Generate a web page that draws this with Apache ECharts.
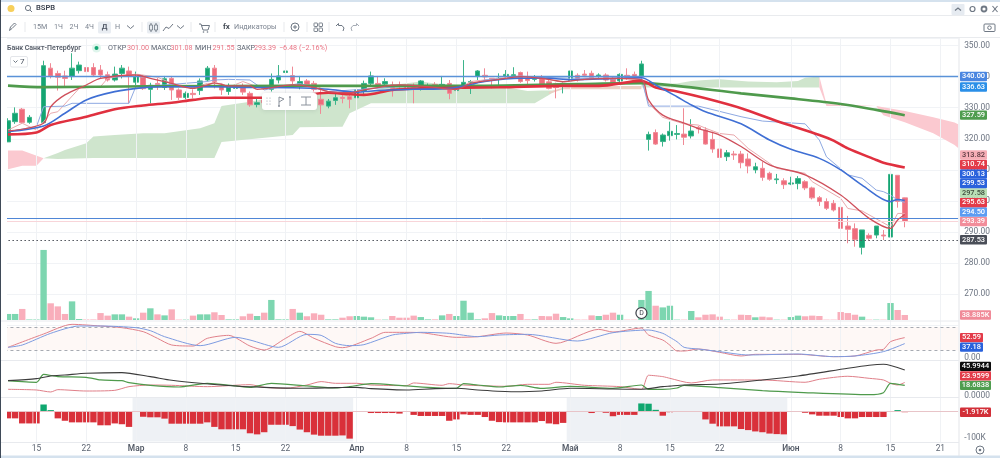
<!DOCTYPE html>
<html lang="ru">
<head>
<meta charset="utf-8">
<title>BSPB</title>
<style>html,body{margin:0;padding:0;background:#fff}#chart{width:1000px;height:458px}</style>
<script src="https://cdn.jsdelivr.net/npm/echarts@6/dist/echarts.min.js"></script>
</head>
<body>
<div id="chart"></div>
<script>
// Daily slots: 11 Feb through the empty days to the right of the last session
const monthStarts = [['02', 11, 28], ['03', 1, 31], ['04', 1, 30], ['05', 1, 31], ['06', 1, 30]];
const slotCount = 134;
const categories = [];
monthStarts.forEach(([m, from, to]) => { for (let d = from; d <= to && categories.length < slotCount; d++) categories.push(m + '-' + d); });

const tickIndex = [4, 11, 18, 25, 32, 39, 49, 56, 63, 70, 79, 86, 93, 100, 110, 117, 124, 131];
const tickLabels = ['15', '22', 'Мар', '8', '15', '22', 'Апр', '8', '15', '22', 'Май', '8', '15', '22', 'Июн', '8', '15', '21'];

// Sessions as [open, close, low, high]
const candles = [
[319.0,325.8,319.0,326.6],[325.5,328.2,324.8,330.1],[329.5,325.2,324.8,329.9],[325.3,326.9,324.8,327.6],'-',
[325.2,343.5,324.9,345.1],[342.7,340.2,339.4,344.3],[341.0,339.8,335.5,341.9],[340.2,339.4,336.8,341.9],[340.0,342.7,338.9,347.5],
[341.9,343.7,341.0,344.8],[342.9,341.6,340.8,344.8],[342.9,340.5,340.2,344.3],[342.1,340.5,339.4,343.7],[340.6,338.9,338.4,341.6],
[338.9,340.8,338.4,343.2],[341.0,342.7,339.4,343.7],[341.8,340.2,331.4,343.2],[338.2,340.0,337.3,341.6],[339.8,336.1,335.7,340.5],
[335.9,337.2,331.4,338.0],[337.8,337.4,335.7,339.5],[336.5,339.3,335.7,340.2],[339.4,335.7,332.5,340.2],[335.7,333.3,332.5,336.2],
[333.3,334.6,332.7,335.2],[334.6,334.2,333.0,335.9],[335.5,338.6,334.1,339.4],[338.9,342.7,338.4,343.4],[342.7,338.4,336.2,343.7],
[336.8,335.7,334.1,337.8],[335.2,336.8,334.1,337.8],[336.2,337.0,335.5,337.5],[337.0,335.0,334.1,337.8],[334.6,330.9,330.3,335.2],
[331.0,331.6,330.1,333.0],[332.4,331.6,331.0,333.0],[335.9,339.1,335.2,341.0],[338.9,340.2,337.8,343.7],[341.3,341.8,341.0,343.2],
[340.3,338.6,337.3,343.2],[337.0,338.4,335.9,340.2],[338.6,337.3,336.8,339.2],[337.8,335.9,335.2,338.6],[332.7,330.9,328.0,335.7],
[330.5,332.1,329.8,332.8],[332.3,333.2,330.9,334.6],[333.3,333.0,331.4,334.1],[333.55,332.7,329.8,334.6],[333.2,335.7,331.9,336.2],
[335.2,337.8,334.1,338.7],[337.8,340.2,337.3,341.6],[337.8,337.1,336.55,340.2],[337.6,338.4,337.3,339.45],[337.3,336.2,333.55,338.4],
[337.0,336.75,335.9,338.4],[337.2,336.2,335.15,338.4],[336.75,336.2,331.4,337.8],[335.9,338.6,335.5,338.9],[336.55,337.1,336.0,337.8],
[337.5,336.45,336.0,338.2],[336.55,337.5,336.2,340.2],[337.8,334.6,332.7,338.9],[335.5,336.75,333.75,337.3],[337.0,338.15,336.75,345.3],
[338.15,338.4,334.4,338.9],[340.0,341.8,338.9,342.1],[340.4,339.9,338.4,342.65],[339.45,338.9,336.2,339.45],[339.2,339.45,337.3,341.05],
[340.2,340.7,339.45,342.1],[340.3,340.6,340.0,343.0],[341.3,338.4,338.0,341.6],[339.45,338.7,337.3,341.6],[339.1,340.0,338.4,340.5],
[339.65,337.5,337.0,340.5],[338.3,336.2,335.9,338.9],[337.7,336.45,333.0,338.05],[337.2,337.8,334.6,338.4],[338.7,341.8,337.8,342.1],
[340.4,338.9,338.4,341.05],[340.8,340.4,340.0,342.1],[341.05,339.65,339.1,341.9],[340.2,340.5,339.1,341.05],[340.5,338.9,338.4,341.05],
[339.1,337.8,337.3,340.0],[338.6,340.7,338.05,341.05],[340.4,339.8,338.9,342.65],[340.7,340.0,339.45,341.6],[340.2,344.05,339.45,345.1],
[319.8,321.4,316.2,322.3],[322.0,318.3,318.0,323.0],[319.1,321.2,317.5,321.7],[321.0,322.4,319.4,325.5],[321.4,321.7,319.8,324.4],
[321.5,320.5,318.0,329.8],[320.9,322.5,320.1,326.3],[323.7,323.2,321.7,324.1],[322.8,318.3,318.1,323.7],[319.8,316.7,315.5,322.3],
[316.7,314.0,313.4,319.1],[314.25,315.5,312.85,316.4],[315.1,314.8,313.2,316.1],[315.1,312.3,310.5,316.1],[313.5,311.25,308.9,315.3],
[310.0,311.0,308.9,312.3],[310.5,307.6,306.5,312.6],[308.9,307.0,306.5,309.4],[306.85,307.1,305.5,308.7],[306.5,305.25,303.85,307.3],
[305.45,305.8,305.1,307.8],[305.6,307.2,303.75,308.0],[306.2,304.2,303.5,306.7],[304.2,301.0,300.5,304.6],[301.05,299.8,298.4,301.6],
[299.8,297.65,297.1,300.85],[299.25,297.1,296.6,300.3],[297.95,291.2,290.9,298.2],[291.95,290.9,286.4,295.2],[291.1,287.65,285.3,292.8],
[285.1,290.7,282.8,290.7],[288.95,288.0,287.25,289.6],[289.05,291.95,288.0,291.95],[289.05,288.75,287.45,290.65],[288.4,308.55,287.45,308.55],
[308.25,299.87,297.85,308.25],[301.0,293.39,291.55,301.08]
];

// Volume, thousands of shares
const volume = [47,47,86,4,4,545,130,106,47,145,8,4,4,54,34,44,44,26,13,57,91,44,36,83,3,3,34,44,44,60,39,5,5,29,49,31,57,156,5,5,86,57,29,52,41,5,5,18,29,31,26,21,3,3,31,18,18,34,23,5,5,36,47,31,150,57,5,13,54,36,31,31,47,5,5,31,29,49,23,13,3,3,36,31,41,57,41,3,3,156,226,111,98,111,3,3,70,21,41,44,26,3,3,41,39,21,26,21,3,3,23,34,29,34,31,3,3,62,54,41,26,3,3,3,132,78,38.885];

// Momentum histogram, thousands
const histogram = [-25,-25,-44,-44,-44,27,6,-25,-34,-40,-40,-40,-40,-51,-51,-44,-47,-57,-1,-19,-21,-21,-26,-45,-45,-45,-45,-45,-40,-57,-66,-66,-66,-66,-81,-85,-77,-49,-49,-49,-54,-67,-77,-86,-90,-90,-90,-89,-101,-1,2,-5,-5,-5,-5,-7,-1,-12,-16,-16,-16,-16,-34,-29,-10,-12,-12,-20,-34,-39,-40,-40,-40,-40,-40,-35,-44,-47,-42,-1,-1,-1,-5,-1,-4,-17,-12,-12,-12,31,30,7,-15,-2,-1,-1,-1,-1,-29,-45,-55,-55,-55,-65,-69,-74,-77,-82,-84,-85,2,2,-4,-10,-15,-15,-15,-20,-25,-25,-20,-20,-20,-20,2,6,-1.917];

// Overlay lines as [slot, price]
const longAverage = [[0,337.1],[5,336.6],[20,336.9],[40,337.0],[64,337.0],[80,337.6],[89,337.9],[94,337.0],[103,334.6],[110,333.0],[117,331.2],[122,329.3],[126,327.59]];
const slowAverage = [[0,321.4],[4,322],[6,324.4],[11,327.1],[15,329.5],[19,330.7],[23,331.6],[26,332.5],[29,333.2],[34,333.2],[40,333.6],[45,334.8],[48,334.3],[50,334.1],[54,335.7],[58,336.2],[64,336.45],[69,336.55],[78,337],[83,337],[89,338.6],[91,336.5],[94,335.2],[98,333],[103,329.8],[108,325.7],[114,321.2],[116,319.4],[118,316.9],[122,313.2],[123,312.3],[126,310.74]];
const midAverage = [[0,322.3],[5,324.1],[8,328.2],[11,332.5],[15,335.15],[19,336.45],[22,336.75],[29,336.75],[34,336.5],[40,336.4],[45,335.9],[49,335],[52,335.5],[57,335.9],[62,336.2],[67,338.4],[72,339.45],[76,339.45],[79,339],[83,339.2],[89,339.6],[91,337.3],[94,333.5],[96,330.9],[98,328.7],[103,324.8],[107,319.6],[110,316.6],[114,313.7],[117,310],[120,305.1],[124,299.8],[125,300.5],[126,300.13]];
const fastAverage = [[0,322.5],[5,325],[6,330.3],[8,334.1],[11,337.3],[13,339.4],[18,340.5],[20,339.45],[23,337.8],[26,336.2],[28,337.3],[29,338],[31,337],[34,337],[35,335.9],[40,337.3],[43,336.5],[45,335.15],[48,334.8],[50,335.7],[55,337.3],[59,336.75],[63,335.9],[65,337.8],[69,339.1],[72,340],[75,339.45],[78,338.4],[81,339.1],[85,339.45],[89,339],[90,332.5],[92,327.6],[95,325],[97,323.3],[100,321.2],[103,317.5],[107,311.6],[112,308.4],[117,301.9],[121,294.4],[124,291.2],[125,293.9],[126,295.63]];
const pinkChannel = [[0,322.8],[2,325],[4,322.8],[5,325.5],[6,328.2],[7,328.7],[10,336.2],[13,336.75],[14,339.45],[18,340.8],[21,339.8],[23,337.8],[26,336.4],[28,337.8],[30,337.8],[31,336.55],[33,338.4],[35,336.75],[40,337.3],[43,337.3],[45,335.15],[48,334.6],[50,335.9],[55,337.3],[59,336.55],[63,335.7],[65,338.4],[69,339.45],[72,340.2],[75,339.45],[78,338.15],[81,339.45],[85,339.45],[89,339.1],[90,331.4],[92,326.9],[95,324.8],[97,324.4],[98,323.4],[100,321.7],[102,321.2],[103,319.1],[104,316.9],[108,310.5],[112,308.9],[113,306.2],[117,300.85],[118,297.6],[120,296.8],[124,291.7],[125,296],[126,296]];
const blueChannel = [[0,322.3],[4,323.9],[5,330.3],[8,330.5],[9,331.4],[17,331.4],[18,337],[22,337.3],[28,338.4],[29,338.9],[31,339.1],[34,338.9],[36,335.7],[41,337.8],[45,335.15],[55,336.75],[64,336.2],[67,338.9],[73,340],[79,339.45],[89,339.6],[90,330.5],[97,330.5],[103,327.1],[106,325.7],[112,324.8],[114,319.6],[115,314.2],[118,308.4],[120,307.3],[122,303.5],[123,303],[124,301.9],[125,300.3],[126,299.53]];

// Cloud regions: upper and lower boundary of each
const cloudBearLeftTop = [[0,316.2],[2,316.2],[5,313.7]];
const cloudBearLeftBottom = [[0,310.2],[2,311.3],[4,311.3],[5,313.7]];
const cloudBullTop = [[5,313.7],[7,315.4],[8,316.4],[11,318.6],[12,320.7],[15,321.2],[19,321.8],[22,321.8],[27,323.4],[29,325],[30,330.5],[34,331.9],[36,332.7],[40,333.5],[45,334.6],[50,334.6],[54,337.3],[58,338.4],[60,337.8],[63,337.3],[69,337],[73,335.4],[75,335.5],[77,335.5]];
const cloudBullBottom = [[5,313.7],[7,313.5],[12,313.8],[29,313.8],[30,319],[40,321.2],[41,323.7],[47,323.9],[48,328.2],[51,331.4],[74,331.4],[76,334.1],[77,335.5]];
const cloudBearMidTop = [[76,335],[78,336.5],[83,337],[89,337]];
const cloudBearMidBottom = [[76,334.4],[78,335.9],[89,335.9]];
const cloudBullLateTop = [[89,337.6],[94,337.8],[96,338.6],[98,338.9],[100,339.1],[104,338.4],[108,338.2],[111,338.6],[112,339.6],[114,340]];
const cloudBullLateBottom = [[89,336.5],[114,336.5]];
const cloudBearLateTop = [[114,340],[115,331.2],[122,330.5],[126,328.9],[130,326.9],[133,325.2],[134,324.7]];
const cloudBearLateBottom = [[114,336.5],[115,330.5],[122,330.5],[123,327.6],[126,325.3],[130,321.8],[133,318],[134,317]];

// Oscillator pane: %K and %D
const stochK = [[0,27.5],[5,61.9],[9,86.8],[13,82.5],[16,78.2],[19,67.9],[21,50.7],[23,33.5],[26,30.9],[28,50.7],[31,58.4],[34,30.9],[36,20.6],[39,50.7],[41,68.7],[43,50.7],[46,29.2],[47,26.6],[51,50.7],[53,66.2],[55,66.2],[58,65.3],[63,53.3],[66,55],[70,64.4],[73,59.3],[77,37.8],[83,73.9],[85,67],[89,77.3],[90,59.3],[92,46.4],[93,33],[94,18],[95,18],[97,23.2],[100,14.6],[103,5.2],[105,9.5],[111,9.5],[116,3.5],[119,5.2],[122,20.6],[123,22.4],[124,42.1],[126,52.59]];
const stochD = [[0,27.5],[2,33.5],[6,63.6],[10,82.5],[13,82.5],[18,78.2],[20,70.5],[22,55],[27,31.8],[32,53.3],[34,46.4],[38,27.5],[42,61],[44,58.4],[46,37.8],[48,31.8],[50,34.4],[54,59.3],[56,63.6],[58,66.2],[62,63.6],[66,55],[69,59.3],[73,61],[80,43.8],[85,65.3],[90,72.2],[92,63.6],[93,53.3],[94,42.1],[95,27.5],[97,23.2],[100,16.4],[104,7.8],[111,10.3],[116,3.5],[119,5.2],[123,16.4],[126,37.18]];

// Directional pane: ADX, -DI, +DI
const adxLine = [[0,27.1],[4,30.7],[6,35.4],[8,37.1],[11,40.1],[16,41.3],[20,34.2],[23,27.7],[27,22.4],[32,17.7],[36,15.3],[41,13.6],[46,14.7],[49,15.3],[51,13],[56,10.6],[60,13],[63,13.6],[66,10.6],[71,7.6],[75,8.8],[79,13.6],[85,12.4],[89,11.8],[92,16.5],[93,17.5],[95,19.5],[100,21.2],[106,28.3],[111,35.4],[118,49],[121,54.3],[123,56],[126,45.9944]];
const minusDi = [[0,27.1],[4,24.2],[5,38.3],[7,34.2],[11,33],[13,28.3],[16,27.1],[17,23.6],[20,18.9],[24,15.9],[28,22.4],[32,17.7],[34,15.3],[37,22.4],[42,17.7],[46,14.1],[48,16.5],[51,21.8],[56,17.7],[62,13.6],[63,13.6],[64,21.8],[66,19.4],[69,15.9],[72,18.9],[75,13.6],[79,17.1],[85,13.6],[89,19.4],[90,11.8],[92,11.8],[94,14.1],[95,18.9],[100,14.7],[106,9.4],[111,6.5],[121,2.3],[123,5.9],[124,22.4],[126,18.6838]];
const plusDi = [[0,11.8],[4,10.6],[6,7.1],[7,11.2],[11,8.8],[15,10],[17,16.5],[20,19.4],[23,18.9],[28,16.5],[34,20],[36,15.3],[39,13.6],[42,19.4],[44,25.4],[46,22.4],[49,22.4],[51,19.4],[56,18.3],[57,23],[61,18.9],[62,21.8],[64,19.4],[70,17.1],[73,20.6],[76,20.6],[77,24.2],[81,18.9],[86,16.5],[89,11.8],[90,36.6],[92,34.2],[93,31.2],[96,23],[99,28.3],[106,28.3],[112,24.2],[114,29.5],[118,34.8],[121,31.2],[123,28.3],[124,22.4],[125,19.4],[126,23.9599]];

// Horizontal levels and price flags
const resistanceLevel = 340.0;
const supportLevel = 294.5;
const previousCloseLevel = 287.53;
const lastCloseLevel = 293.39;
const priceTagValues = [287.53, 293.39, 294.5, 295.63, 297.58, 299.53, 300.13, 310.74, 313.82, 327.59, 336.63, 340.0];
const priceTagFills = ['#4a4e58', '#f28d9a', '#5c9cf2', '#e33b49', '#b9deb6', '#2a62dc', '#2a62dc', '#e33b49', '#f6aeb6', '#4f9d4f', '#2a8fe8', '#4a86e0'];
const priceTagInks = ['#fff', '#fff', '#fff', '#fff', '#3c4a3c', '#fff', '#fff', '#fff', '#5a3a40', '#fff', '#fff', '#fff'];
const volumeTagValues = [38.885];
const stochTagValues = [52.59, 37.18];
const dmiTagValues = [18.6838, 23.9599, 45.9944];
const histogramTagValues = [-1.917];

const UP = '#14a572', DOWN = '#ef6c7c', UP_EDGE = '#3db48b', DOWN_EDGE = '#f08a96', UP_SOFT = '#7dd6b0', DOWN_SOFT = '#f9aebb';
const GRID_LEFT = 4.44, GRID_WIDTH = 953.7, TAG_X = 960, TAG_H = 9.4, TAG_STEP = 9.5;
const FONT = 'Roboto, "Noto Sans", sans-serif';

const isUp = i => Array.isArray(candles[i]) ? candles[i][1] >= candles[i][0] : true;

// Flags on the right price scale, pushed apart so they never overlap
function tagSeries(axisIndex, values, fills, inks, format, direction) {
  return {
    type: 'custom', xAxisIndex: axisIndex, yAxisIndex: axisIndex, silent: true, z: 20,
    data: values.map(v => [0, v]),
    renderItem(params, api) {
      let y = 0;
      for (let k = 0; k <= params.dataIndex; k++) {
        const raw = api.coord([0, values[k]])[1];
        y = k === 0 ? raw : (direction < 0 ? Math.min(raw, y - TAG_STEP) : Math.max(raw, y + TAG_STEP));
      }
      const text = format(values[params.dataIndex]);
      const width = text.length * 4 + 3;
      return {
        type: 'group',
        children: [
          { type: 'rect', shape: { x: TAG_X, y: y - TAG_H / 2, width, height: TAG_H, r: 1 }, style: { fill: fills[params.dataIndex] } },
          { type: 'text', style: { text, x: TAG_X + width / 2, y, fill: inks[params.dataIndex], font: '500 7.4px ' + FONT, align: 'center', verticalAlign: 'middle' } }
        ]
      };
    }
  };
}

// Closed cloud region built from its two boundaries, trimmed to the pane
function cloudSeries(top, bottom, fill) {
  return {
    type: 'custom', xAxisIndex: 1, yAxisIndex: 1, silent: true, z: 1, data: [[0, 0]],
    renderItem(params, api) {
      const raw = top.concat(bottom.slice().reverse()).map(p => api.coord(p));
      const points = echarts.graphic.clipPointsByRect(raw, params.coordSys);
      return { type: 'polygon', shape: { points }, style: { fill } };
    }
  };
}

function overlay(data, color, width, z, smooth) {
  return { type: 'line', xAxisIndex: 1, yAxisIndex: 1, data, showSymbol: false, silent: true, smooth: smooth || 0, z, lineStyle: { color, width }, animation: false };
}
function paneLine(axis, data, color, width) {
  return { type: 'line', xAxisIndex: axis, yAxisIndex: axis, data, showSymbol: false, silent: true, smooth: 0.25, z: 5, lineStyle: { color, width }, animation: false };
}
function level(value, color, width, type) {
  return { silent: true, symbol: 'none', label: { show: false }, lineStyle: { color, width, type }, data: [{ yAxis: value }], animation: false };
}

const panes = [
  { top: 38, height: 404 },
  { top: 38, height: 287.4 },
  { top: 240, height: 80 },
  { top: 323.1, height: 34.9 },
  { top: 362, height: 34 },
  { top: 395.7, height: 48 }
];
const hiddenAxis = { show: false };
const priceAxisText = { color: '#6d7582', fontSize: 8.4, fontFamily: FONT, margin: 6 };

const option = {
  animation: false,
  backgroundColor: '#fff',
  grid: panes.map(p => ({ left: GRID_LEFT, width: GRID_WIDTH, top: p.top, height: p.height })),
  xAxis: panes.map((p, n) => ({
    type: 'category', gridIndex: n, data: categories, boundaryGap: true,
    axisLine: { show: false }, axisTick: { show: false }, splitLine: { show: false },
    axisLabel: n === 5 ? {
      show: true, margin: 1, color: '#5d6572', fontSize: 8.4, fontFamily: FONT, hideOverlap: false,
      interval: i => tickIndex.includes(i),
      formatter: (v, i) => {
        const text = tickLabels[tickIndex.indexOf(i)] || '';
        return /^\d/.test(text) ? text : '{m|' + text + '}';
      },
      rich: { m: { fontWeight: 600, fontSize: 8.4, color: '#555c68', fontFamily: FONT } }
    } : { show: false }
  })),
  yAxis: [
    { type: 'value', gridIndex: 0, min: 0, max: 1, ...hiddenAxis },
    { type: 'value', gridIndex: 1, position: 'right', min: 260, max: 352.4, interval: 10, scale: true,
      axisLine: { show: false }, axisTick: { show: false },
      splitLine: { lineStyle: { color: '#f1f3f6', width: 1 } },
      axisLabel: { ...priceAxisText, formatter: v => (v >= 270 && v <= 350 ? v.toFixed(2) : '') } },
    { type: 'value', gridIndex: 2, min: 0, max: 622.4, ...hiddenAxis },
    { type: 'value', gridIndex: 3, position: 'right', min: 0, max: 90, interval: 90,
      axisLine: { show: false }, axisTick: { show: false }, splitLine: { show: false },
      axisLabel: { ...priceAxisText, formatter: v => (v === 0 ? '0.00' : '') } },
    { type: 'value', gridIndex: 4, position: 'right', min: 0, max: 60, interval: 60,
      axisLine: { show: false }, axisTick: { show: false }, splitLine: { show: false },
      axisLabel: { ...priceAxisText, formatter: v => (v === 0 ? '0.0000' : '') } },
    { type: 'value', gridIndex: 5, position: 'right', min: -120, max: 60, interval: 20,
      axisLine: { show: false }, axisTick: { show: false }, splitLine: { show: false },
      axisLabel: { ...priceAxisText, formatter: v => (v === -100 ? '-100K' : '') } }
  ],
  series: [
    // Vertical guides through every pane
    { type: 'line', xAxisIndex: 0, yAxisIndex: 0, data: [], silent: true, z: 0,
      markLine: { silent: true, symbol: 'none', label: { show: false }, animation: false,
        lineStyle: { color: '#f0f2f5', width: 1, type: 'solid' }, data: tickIndex.map(i => ({ xAxis: i })) } },

    cloudSeries(cloudBearLeftTop, cloudBearLeftBottom, '#fbc9d0'),
    cloudSeries(cloudBullTop, cloudBullBottom, '#cfe5cd'),
    cloudSeries(cloudBearMidTop, cloudBearMidBottom, '#ecd0c4'),
    cloudSeries(cloudBullLateTop, cloudBullLateBottom, '#cfe5cd'),
    cloudSeries(cloudBearLateTop, cloudBearLateBottom, '#fbc9d0'),

    { type: 'candlestick', xAxisIndex: 1, yAxisIndex: 1, data: candles, barWidth: 5, z: 3, silent: true,
      itemStyle: { color: UP, color0: DOWN, borderColor: UP_EDGE, borderColor0: DOWN_EDGE, borderWidth: 1 } },

    overlay(pinkChannel, '#e9a9ad', 1, 4),
    overlay(blueChannel, '#8ea9e2', 1, 4),
    overlay(longAverage, '#4f9a4c', 2.6, 5, 0.3),
    overlay(slowAverage, '#e0303f', 2.6, 6, 0.3),
    overlay(midAverage, '#3f6fd4', 1.6, 6, 0.3),
    overlay(fastAverage, '#cf4f5b', 1.3, 6, 0.3),

    // Horizontal price levels
    { type: 'line', xAxisIndex: 1, yAxisIndex: 1, data: [], silent: true, z: 4, markLine: level(resistanceLevel, '#5a92d8', 1.4, 'solid') },
    { type: 'line', xAxisIndex: 1, yAxisIndex: 1, data: [], silent: true, z: 4, markLine: level(supportLevel, '#4f86d6', 1, 'solid') },
    { type: 'line', xAxisIndex: 1, yAxisIndex: 1, data: [], silent: true, z: 4, markLine: level(lastCloseLevel, '#f8d5d9', 1, 'solid') },
    { type: 'line', xAxisIndex: 1, yAxisIndex: 1, data: [], silent: true, z: 4, markLine: level(previousCloseLevel, '#50545c', 1.2, [1.5, 2.5]) },

    // Volume with the dividend marker
    { type: 'bar', xAxisIndex: 2, yAxisIndex: 2, barWidth: 6.4, silent: true, z: 3,
      data: volume.map((v, i) => ({ value: v, itemStyle: { color: isUp(i) ? UP_SOFT : DOWN_SOFT } })),
      markPoint: { silent: true, animation: false, symbol: 'circle', symbolSize: 11,
        itemStyle: { color: '#fff', borderColor: '#3c4048', borderWidth: 1.2 },
        label: { show: true, formatter: 'D', color: '#3c4048', fontSize: 7, fontFamily: FONT, position: 'inside' },
        data: [{ coord: [89, 54] }] } },

    // Stochastic pane
    { type: 'line', xAxisIndex: 3, yAxisIndex: 3, data: stochK, showSymbol: false, silent: true, smooth: 0.25, z: 5,
      lineStyle: { color: '#e0808a', width: 1 },
      markArea: { silent: true, animation: false, itemStyle: { color: '#fef8f6' }, data: [[{ yAxis: 20 }, { yAxis: 80 }]] },
      markLine: { silent: true, animation: false, symbol: 'none', label: { show: false }, lineStyle: { color: '#a7abb2', width: 1, type: [3, 3] }, data: [{ yAxis: 80 }, { yAxis: 20 }] } },
    paneLine(3, stochD, '#7d9be0', 1),

    // Directional pane
    paneLine(4, plusDi, '#e07f89', 1),
    paneLine(4, minusDi, '#4f9a4c', 1.2),
    paneLine(4, adxLine, '#3c3c3c', 1.1),

    // Histogram with shaded months
    { type: 'bar', xAxisIndex: 5, yAxisIndex: 5, barWidth: 6.4, silent: true, z: 3,
      data: histogram.map(v => ({ value: v, itemStyle: { color: v >= 0 ? '#0fa76f' : '#d9303a' } })),
      markArea: { silent: true, animation: false, itemStyle: { color: '#eef1f5' },
        data: [[{ xAxis: 18, yAxis: 52 }, { xAxis: 48, yAxis: -112 }], [{ xAxis: 79, yAxis: 52 }, { xAxis: 109, yAxis: -112 }]] },
      markLine: { silent: true, animation: false, symbol: 'none', label: { show: false }, lineStyle: { color: '#e8c4c8', width: 1, type: 'solid' }, data: [{ yAxis: 0 }] } },

    tagSeries(1, priceTagValues, priceTagFills, priceTagInks, v => v.toFixed(2), -1),
    tagSeries(2, volumeTagValues, ['#f08a98'], ['#fff'], v => v.toFixed(3) + 'K', -1),
    tagSeries(3, stochTagValues, ['#e33b49', '#2a62dc'], ['#fff', '#fff'], v => v.toFixed(2), 1),
    tagSeries(4, dmiTagValues, ['#4f9d4f', '#e33b49', '#0d0d0d'], ['#fff', '#fff', '#fff'], v => v.toFixed(4), -1),
    tagSeries(5, histogramTagValues, ['#d22f38'], ['#fff'], v => v.toFixed(3) + 'K', -1)
  ],
  graphic: { elements: buildChrome() }
};

// Window frame, toolbars and the floating drawing palette
function buildChrome() {
  const out = [];
  const line = (x1, y1, x2, y2, stroke, lineWidth = 1, z = 50) => out.push({ type: 'line', z, silent: true, shape: { x1, y1, x2, y2 }, style: { stroke, lineWidth } });
  const rect = (x, y, width, height, fill, r = 0, z = 50, extra = {}) => out.push({ type: 'rect', z, silent: true, shape: { x, y, width, height, r }, style: { fill, ...extra } });
  const circle = (cx, cy, r, style, z = 51) => out.push({ type: 'circle', z, silent: true, shape: { cx, cy, r }, style });
  const text = (str, x, y, fill, size = 7.2, weight = 400, align = 'left', z = 51) => out.push({ type: 'text', z, silent: true, style: { text: str, x, y, fill, font: weight + ' ' + size + 'px ' + FONT, align, verticalAlign: 'middle' } });
  const poly = (points, stroke, lineWidth = 1, z = 51) => out.push({ type: 'polyline', z, silent: true, shape: { points }, style: { stroke, lineWidth, fill: 'none' } });
  const ICON = '#6f7884', LABEL = '#7d8591';

  // Margin left of the first session and the frame
  rect(0, 38, 7, 406, '#ffffff');
  rect(0, 0, 1000, 2, '#d5e2ee');
  rect(0, 455.5, 1000, 2.5, '#d5e2ee');
  line(0.5, 0, 0.5, 458, '#3f4a58', 1);
  line(959, 38, 959, 456, '#e3e5e9');
  [15.5, 37.5].forEach(y => line(1, y, 1000, y, '#e9ebee'));
  [321, 360.5, 397.5, 442.5].forEach(y => line(1, y, 959, y, '#e8eaee'));

  // Symbol row
  circle(11, 8.5, 3.5, { fill: '#f7cf5a' });
  circle(28, 8, 2.6, { fill: 'none', stroke: ICON, lineWidth: 1 });
  line(30, 10, 32, 12, ICON);
  text('BSPB', 36, 8.5, '#3d4450', 7.6, 600);
  rect(951.5, 4, 13, 11, '#e6ebf1', 1);
  poly([[955, 10.5], [958, 8], [961, 10.5]], ICON, 1.2);
  circle(972.5, 9, 2.5, { fill: 'none', stroke: ICON, lineWidth: 1.2 });
  circle(984, 9, 2.5, { fill: 'none', stroke: ICON, lineWidth: 1.8 });
  line(992.5, 6, 997.5, 12, ICON, 1.1);
  line(997.5, 6, 992.5, 12, ICON, 1.1);

  // Interval row
  poly([[9.5, 30.5], [10.5, 27], [14.5, 23], [16, 24.5], [12, 28.5], [9.5, 30.5]], ICON, 1);
  line(25, 22, 25, 32, '#e7e9ec');
  text('15М', 33, 27, LABEL);
  text('1Ч', 54, 27, LABEL);
  text('2Ч', 69.5, 27, LABEL);
  text('4Ч', 85, 27, LABEL);
  rect(98, 21.5, 13, 12, '#e9edf2', 1.5);
  text('Д', 104.5, 27, '#4a5260', 7.6, 600, 'center');
  text('Н', 115, 27, LABEL);
  poly([[127, 25.5], [130.5, 28.5], [134, 25.5]], ICON, 1);
  line(142, 22, 142, 32, '#e7e9ec');
  rect(147, 21.5, 13, 12, '#e9edf2', 1.5);
  [151, 156].forEach(x => { line(x, 23, x, 32, ICON); rect(x - 1.5, 25, 3, 5, '#e9edf2', 0, 51, { stroke: ICON, lineWidth: 0.8 }); });
  poly([[163, 31], [166, 27], [169, 28.5], [173, 24]], ICON, 1);
  poly([[177, 25.5], [180.5, 28.5], [184, 25.5]], ICON, 1);
  line(191, 22, 191, 32, '#e7e9ec');
  poly([[199, 24], [201, 24], [203, 30], [208, 30], [209.5, 25.5], [202, 25.5]], ICON, 1);
  circle(203.5, 32, 0.8, { fill: ICON });
  circle(207.5, 32, 0.8, { fill: ICON });
  line(215, 22, 215, 32, '#e7e9ec');
  text('fx', 223, 27, '#3f4650', 8, 600);
  text('Индикаторы', 234, 27, LABEL);
  line(284, 22, 284, 32, '#e7e9ec');
  circle(295, 27, 4, { fill: 'none', stroke: ICON, lineWidth: 1 });
  line(295, 25, 295, 29, ICON);
  line(293, 27, 297, 27, ICON);
  line(307, 22, 307, 32, '#e7e9ec');
  [[314, 23], [319, 23], [314, 28], [319, 28]].forEach(([x, y]) => rect(x, y, 3.5, 3.5, 'none', 0.5, 51, { stroke: ICON, lineWidth: 0.9 }));
  line(329, 22, 329, 32, '#e7e9ec');
  poly([[336, 26], [338.5, 23.5], [338.5, 25.5], [342, 25.5], [344, 28], [343, 31]], ICON, 1);
  poly([[359, 26], [356.5, 23.5], [356.5, 25.5], [353, 25.5], [351, 28], [352, 31]], '#a5abb4', 1);
  rect(984, 24, 11, 7.5, 'none', 1, 51, { stroke: ICON, lineWidth: 1 });
  circle(989.5, 27.7, 1.8, { fill: 'none', stroke: ICON, lineWidth: 1 });

  // Instrument legend
  text('Банк Санкт-Петербург', 7, 48, '#555c68', 7, 600);
  circle(96.5, 48, 4.5, { fill: '#dff5ec' });
  circle(96.5, 48, 2, { fill: '#14a572' });
  const PINK = '#ea7484', CAP = '#5d6572';
  text('ОТКР', 108, 48, CAP);
  text('301.00', 127, 48, PINK);
  text('МАКС', 151, 48, CAP);
  text('301.08', 170.5, 48, PINK);
  text('МИН', 195, 48, CAP);
  text('291.55', 212.5, 48, PINK);
  text('ЗАКР', 237, 48, CAP);
  text('293.39', 254, 48, PINK);
  text('−6.48 (−2.16%)', 279, 48, PINK);
  rect(10.5, 56.5, 17, 10.5, '#fff', 1.5, 52, { stroke: '#e4e6ea', lineWidth: 1 });
  poly([[13.5, 60.5], [15.5, 62.5], [17.5, 60.5]], ICON, 1, 53);
  text('7', 20, 62, '#4a5260', 8, 400, 'left', 53);

  // Floating drawing palette
  rect(262, 93, 55, 17, '#ffffff', 3, 60, { shadowBlur: 5, shadowColor: 'rgba(60,70,90,0.18)' });
  [[267, 98], [270, 98], [267, 101], [270, 101], [267, 104], [270, 104]].forEach(([x, y]) => circle(x, y, 0.6, { fill: '#9aa1ab' }, 61));
  line(279, 97, 279, 106, '#8b929c', 1, 61);
  poly([[279, 97], [284, 99], [279, 102]], '#8b929c', 1, 61);
  circle(279, 106, 1, { fill: '#8b929c' }, 61);
  line(290, 97, 290, 106, '#8b929c', 1, 61);
  circle(290, 97, 1, { fill: '#8b929c' }, 61);
  line(306, 97, 306, 105, '#8b929c', 1, 61);
  line(301, 97, 311, 97, '#8b929c', 1, 61);
  line(301, 105, 311, 105, '#8b929c', 1, 61);

  // Scale settings
  circle(980, 450, 4, { fill: 'none', stroke: ICON, lineWidth: 1 });
  circle(980, 450, 1.3, { fill: ICON });
  return out;
}

const chart = echarts.init(document.getElementById('chart'), null, { renderer: 'canvas' });
chart.setOption(option);
</script>
</body>
</html>
